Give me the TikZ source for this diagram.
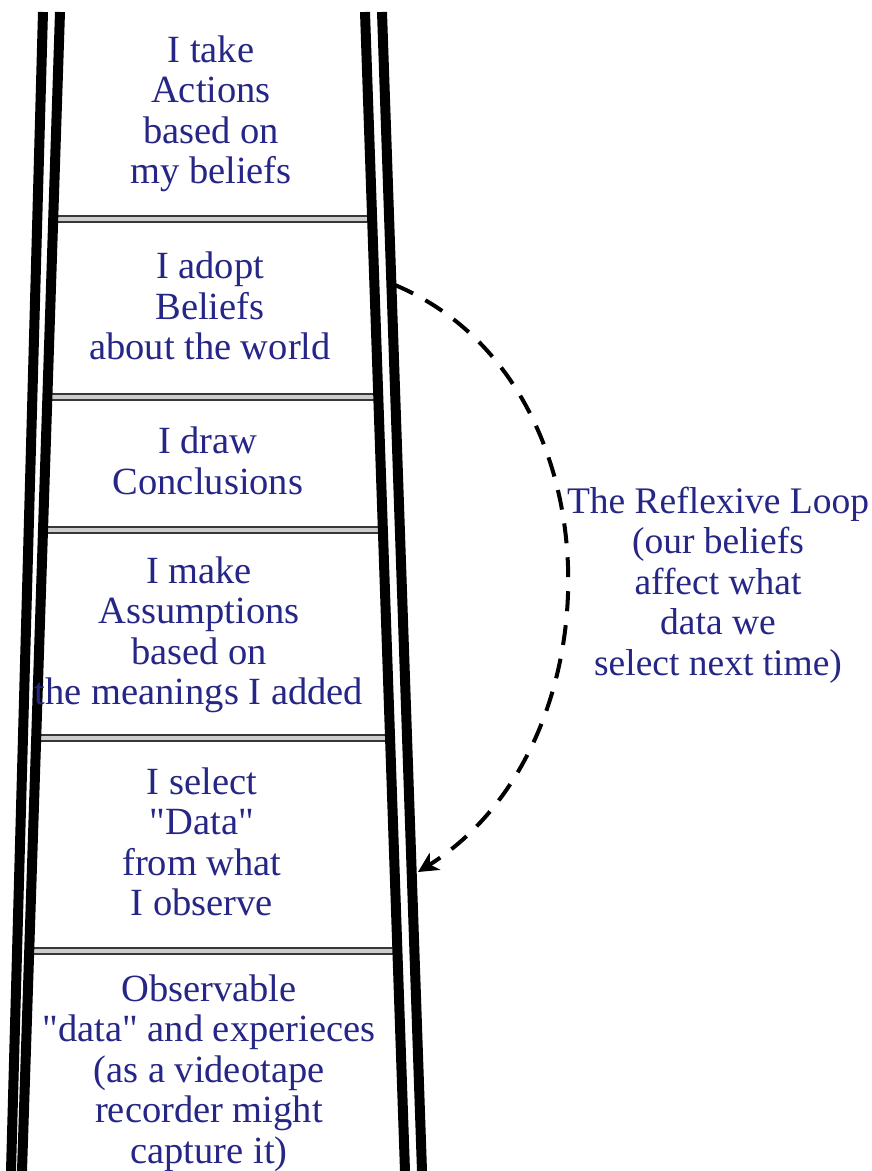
\documentclass[tikz,border=0pt]{standalone}
\usepackage{fontspec}
\setmainfont{Liberation Serif}
\usetikzlibrary{calc,arrows.meta}
\definecolor{inkblue}{RGB}{38,38,135}
\definecolor{rungfill}{RGB}{205,205,205}
\definecolor{rungedge}{RGB}{55,55,55}
\newcommand{\dq}{\textquotedbl}
\begin{document}
\begin{tikzpicture}[x=1pt,y=-1pt,
  rail/.style={line width=10pt, black, line cap=butt},
  rung/.style={draw=rungedge, line width=1.6pt, double=rungfill, double distance=4pt},
  steptext/.style={text=inkblue, align=center, font=\fontsize{38.5}{40.5}\selectfont, inner sep=0pt},
  sidetext/.style={steptext, font=\fontsize{37.5}{40.5}\selectfont},
  loopline/.style={line width=4pt, dash pattern=on 20pt off 14pt,
    -{Stealth[length=20pt,width=20pt,inset=6pt]}}
]
% page
\fill[white] (0,0) rectangle (872,1171);
\useasboundingbox (0,0) rectangle (872,1171);

% rail end points
\coordinate (lo0) at (43,12);  \coordinate (lo1) at (11,1171);
\coordinate (li0) at (60,12);  \coordinate (li1) at (22,1171);
\coordinate (ri0) at (365,12); \coordinate (ri1) at (405,1171);
\coordinate (ro0) at (382,12); \coordinate (ro1) at (422,1171);

% rungs
\foreach \y in {219,397,530,738,951}{
  \pgfmathsetmacro\t{(\y-12)/1159}
  \draw[rung] ($(li0)!\t!(li1)$) -- ($(ri0)!\t!(ri1)$);
}

% rails
\draw[rail] (lo0) -- (lo1);
\draw[rail] (li0) -- (li1);
\draw[rail] (ri0) -- (ri1);
\draw[rail] (ro0) -- (ro1);

% steps of the ladder
\node[steptext] (actions) at (211,114) {I take\\Actions\\based on\\my beliefs};
\node[steptext] (beliefs) at (210,306) {I adopt\\Beliefs\\about the world};
\node[steptext] (conclusions) at (208,461) {I draw\\Conclusions};
\node[steptext] (assumptions) at (199,635) {I make\\Assumptions\\based on\\the meanings I added};
\node[steptext] (selectdata) at (202,842) {I select\\\dq Data\dq\\from what\\I observe};
\node[steptext] (observable) at (209,1073) {Observable\\\dq data\dq{} and experieces\\(as a videotape\\recorder might\\capture it)};

% reflexive loop
\node[sidetext] (looptext) at (718,585) {The Reflexive Loop\\(our beliefs\\affect what\\data we\\select next time)};
\coordinate (loopStart) at (395,285);
\coordinate (loopEnd) at (418,872);
\draw[loopline] (loopStart) .. controls (620,380) and (620,745) .. (loopEnd);
\end{tikzpicture}
\end{document}
